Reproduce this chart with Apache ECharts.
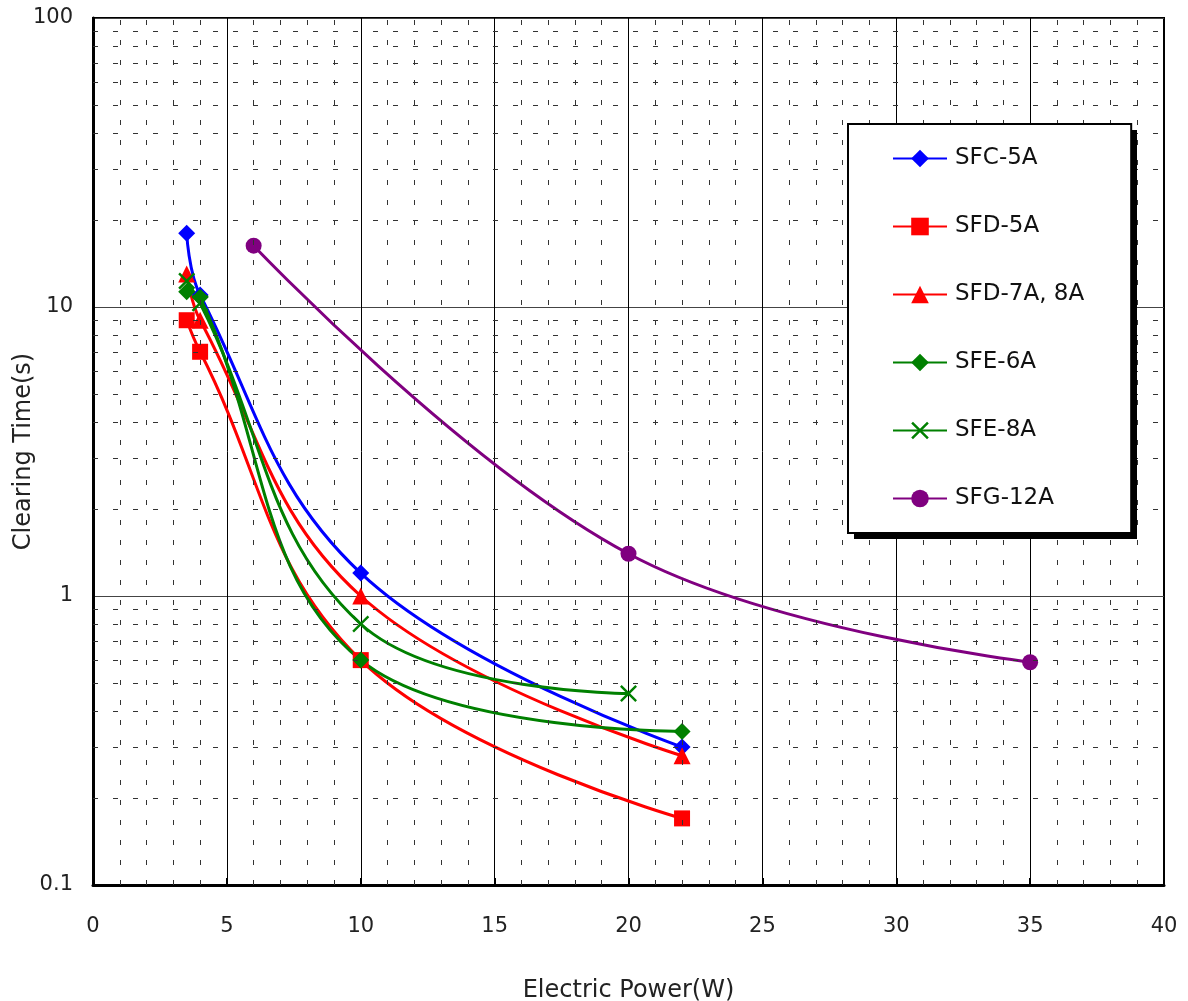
<!DOCTYPE html>
<html>
<head>
<meta charset="utf-8">
<title>Clearing Time vs Electric Power</title>
<script src="https://cdn.jsdelivr.net/npm/echarts@6/dist/echarts.min.js"></script>
<style>
  html, body { margin: 0; padding: 0; background: #fff; }
  #myChart { width: 1188px; height: 1001px; }
</style>
</head>
<body>
<div id="myChart"></div>
<script>
// data
var seriesNames = ['SFC-5A', 'SFD-5A', 'SFD-7A, 8A', 'SFE-6A', 'SFE-8A', 'SFG-12A']

var sfc5aPower = [3.5, 4, 10, 22]
var sfc5aTime = [18, 11, 1.2, 0.3]

var sfd5aPower = [3.5, 4, 10, 22]
var sfd5aTime = [9, 7, 0.6, 0.17]

var sfd7aPower = [3.5, 4, 10, 22]
var sfd7aTime = [13, 9, 1.0, 0.28]

var sfe6aPower = [3.5, 4, 10, 22]
var sfe6aTime = [11.3, 10.8, 0.6, 0.34]

var sfe8aPower = [3.5, 4, 10, 20]
var sfe8aTime = [12.3, 10.3, 0.8, 0.46]

var sfg12aPower = [6, 20, 35]
var sfg12aTime = [16.3, 1.4, 0.59]

// minor grid positions
var minorX = [1, 2, 3, 4, 6, 7, 8, 9, 11, 12, 13, 14, 16, 17, 18, 19, 21, 22, 23, 24, 26, 27, 28, 29, 31, 32, 33, 34, 36, 37, 38, 39]
var minorY = [0.2, 0.3, 0.4, 0.5, 0.6, 0.7, 0.8, 0.9, 2, 3, 4, 5, 6, 7, 8, 9, 20, 30, 40, 50, 60, 70, 80, 90]

var xTicks = [0, 5, 10, 15, 20, 25, 30, 35, 40]
var yTicks = [0.1, 1, 10, 100]

function pairs(xs, ys) {
  return xs.map(function (x, i) { return [x, ys[i]] })
}

var crossPath = 'path://M0,1 L1,0 L5,4 L9,0 L10,1 L6,5 L10,9 L9,10 L5,6 L1,10 L0,9 L4,5 Z'

var fontFamily = '"DejaVu Sans", sans-serif'

function lineSeries(name, data, color, symbol, size) {
  return {
    name: name,
    type: 'line',
    data: data,
    smooth: 0.4,
    symbol: symbol,
    symbolSize: size,
    showAllSymbol: true,
    lineStyle: { color: color, width: 3 },
    itemStyle: { color: color },
    z: 3
  }
}

var myChart = echarts.init(document.getElementById('myChart'), null, { renderer: 'canvas' })

// legend box geometry (shadow is drawn as a plain rect behind it)
var legendLeft = 848
var legendTop = 124
var legendW = 283
var legendH = 409

var option = {
  animation: false,
  backgroundColor: '#fff',
  textStyle: { fontFamily: fontFamily },
  grid: {
    left: 93,
    right: 24,
    top: 18,
    bottom: 116,
    outerBoundsMode: 'none',
    containLabel: false,
    show: true,
    borderColor: '#000',
    borderWidth: 2,
    backgroundColor: 'transparent'
  },
  graphic: [
    {
      type: 'rect',
      left: legendLeft + 6,
      top: legendTop + 6,
      z: 50,
      shape: { width: legendW, height: legendH },
      style: { fill: '#000' }
    }
  ],
  legend: {
    orient: 'vertical',
    left: legendLeft,
    top: legendTop,
    z: 60,
    data: seriesNames,
    itemWidth: 54,
    itemHeight: 22,
    itemGap: 45,
    padding: [23, 47, 23, 44],
    backgroundColor: '#fff',
    borderColor: '#000',
    borderWidth: 2,
    borderRadius: 0,
    textStyle: { fontSize: 23, color: '#111', fontFamily: fontFamily, padding: [0, 0, 0, 3] }
  },
  xAxis: {
    type: 'value',
    min: 0,
    max: 40,
    interval: 5,
    name: 'Electric Power(W)',
    nameLocation: 'middle',
    nameGap: 94,
    nameMoveOverlap: false,
    nameTextStyle: { fontSize: 24, color: '#222', fontFamily: fontFamily },
    axisLine: { show: true, lineStyle: { color: '#000', width: 3 } },
    axisTick: { show: true, inside: true, length: 7, lineStyle: { color: '#000', width: 2 } },
    axisLabel: {
      fontSize: 21,
      color: '#222',
      margin: 31,
      formatter: function (v) { return xTicks.indexOf(v) >= 0 ? String(v) : '' }
    },
    splitLine: { show: true, lineStyle: { color: '#000', width: 1 } }
  },
  yAxis: {
    type: 'log',
    logBase: 10,
    min: 0.1,
    max: 100,
    name: 'Clearing Time(s)',
    nameLocation: 'middle',
    nameGap: 57,
    nameMoveOverlap: false,
    nameTextStyle: { fontSize: 24, color: '#222', fontFamily: fontFamily },
    axisLine: { show: true, lineStyle: { color: '#000', width: 3 } },
    axisTick: { show: false },
    axisLabel: {
      fontSize: 21,
      color: '#222',
      margin: 20,
      formatter: function (v) {
        var match = yTicks.filter(function (t) { return Math.abs(t - v) / t < 1e-6 })
        return match.length ? String(match[0]) : ''
      }
    },
    splitLine: { show: true, lineStyle: { color: '#444', width: 1 } }
  },
  series: [
    {
      // minor dashed grid
      name: 'minor-grid',
      type: 'line',
      data: [],
      silent: true,
      z: 1,
      markLine: {
        silent: true,
        symbol: 'none',
        animation: false,
        label: { show: false },
        lineStyle: { color: '#333', width: 1, type: [5, 15] },
        data: minorX.map(function (v) { return { xAxis: v } })
          .concat(minorY.map(function (v) { return { yAxis: v } }))
      }
    },
    lineSeries(seriesNames[0], pairs(sfc5aPower, sfc5aTime), '#0000FF', 'diamond', 17),
    lineSeries(seriesNames[1], pairs(sfd5aPower, sfd5aTime), '#FF0000', 'rect', 16),
    lineSeries(seriesNames[2], pairs(sfd7aPower, sfd7aTime), '#FF0000', 'triangle', 17),
    lineSeries(seriesNames[3], pairs(sfe6aPower, sfe6aTime), '#008000', 'diamond', 17),
    lineSeries(seriesNames[4], pairs(sfe8aPower, sfe8aTime), '#008000', crossPath, 17),
    lineSeries(seriesNames[5], pairs(sfg12aPower, sfg12aTime), '#800080', 'circle', 16)
  ]
}

myChart.setOption(option)
</script>
</body>
</html>
